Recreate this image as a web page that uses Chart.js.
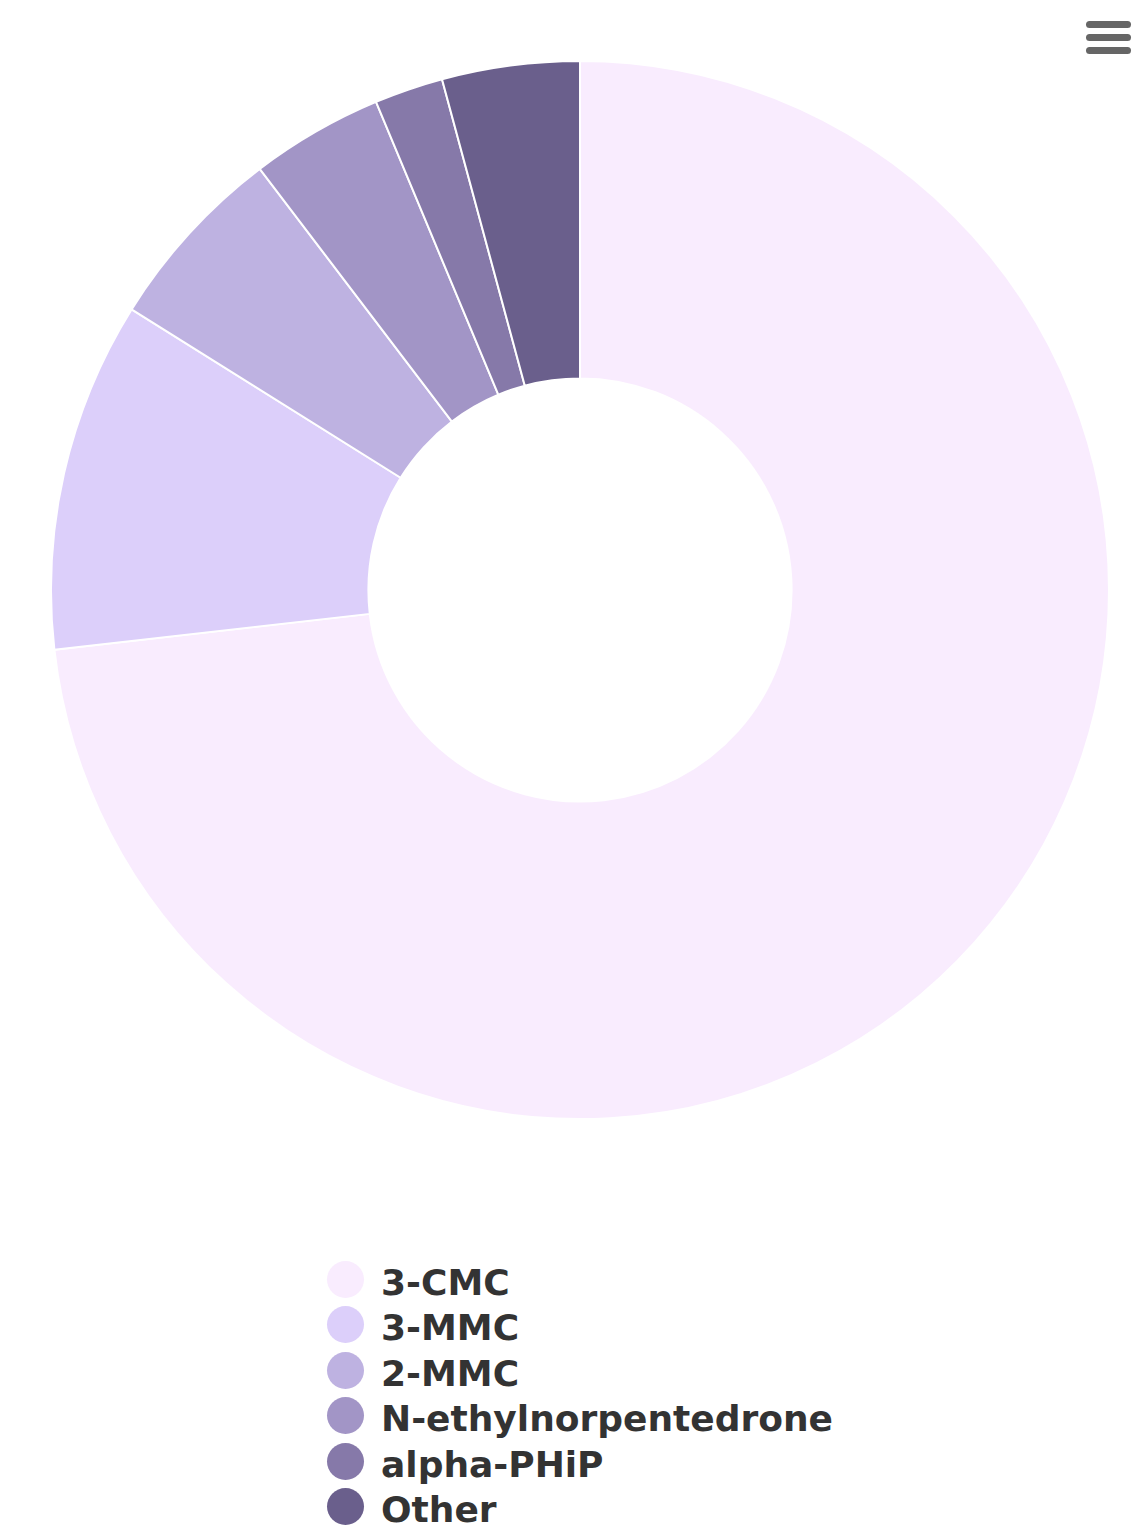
<!DOCTYPE html>
<html>
<head>
<meta charset="utf-8">
<script src="https://cdn.jsdelivr.net/npm/chart.js@4/dist/chart.umd.min.js"></script>
<style>
    body { margin: 0; background: #fff; width: 1133px; height: 1528px; position: relative; overflow: hidden; }
    #wrap { position: absolute; left: 50px; top: 60px; width: 1060px; height: 1060px; }
    .menu { position: absolute; left: 1086px; width: 45px; height: 7px; border-radius: 4px; background: #666; }
    #legend { position: absolute; left: 327px; top: 1257px; font-family: "DejaVu Sans", sans-serif; font-weight: bold; font-size: 36px; color: #333; }
    #legend .row { height: 45.4px; line-height: 45.4px; position: relative; white-space: nowrap; }
    #legend .dot { position: absolute; left: 0; top: 4px; width: 37px; height: 37px; border-radius: 50%; }
    #legend .txt { position: absolute; left: 54px; top: 3px; }
</style>
</head>
<body>
<div class="menu" style="top:21px"></div>
<div class="menu" style="top:34px"></div>
<div class="menu" style="top:47px"></div>
<div id="wrap"><canvas id="donut"></canvas></div>
<div id="legend"></div>
<script>
let labels = ["3-CMC", "3-MMC", "2-MMC", "N-ethylnorpentedrone", "alpha-PHiP", "Other"];
let shares = [73.2, 10.7, 5.75, 4.05, 2.1, 4.2];
let colors = ["#f9ecfe", "#dccffa", "#beb2e1", "#a295c6", "#8679a9", "#6a5f8c"];

let donut = new Chart(document.getElementById("donut"), {
    type: 'doughnut',
    data: {
        labels: labels,
        datasets: [{
            data: shares,
            backgroundColor: colors,
            borderColor: '#ffffff',
            borderWidth: 2
        }]
    },
    options: {
        responsive: true,
        maintainAspectRatio: false,
        animation: false,
        cutout: '40%',
        plugins: {
            legend: { display: false },
            tooltip: { enabled: false }
        }
    }
});

// legend built from the chart's own labels / colours
let html = "";
donut.data.labels.forEach((l, i) => {
    html += `<div class="row"><span class="dot" style="background:${donut.data.datasets[0].backgroundColor[i]}"></span><span class="txt">${l}</span></div>`;
});
document.getElementById("legend").innerHTML = html;
</script>
</body>
</html>
